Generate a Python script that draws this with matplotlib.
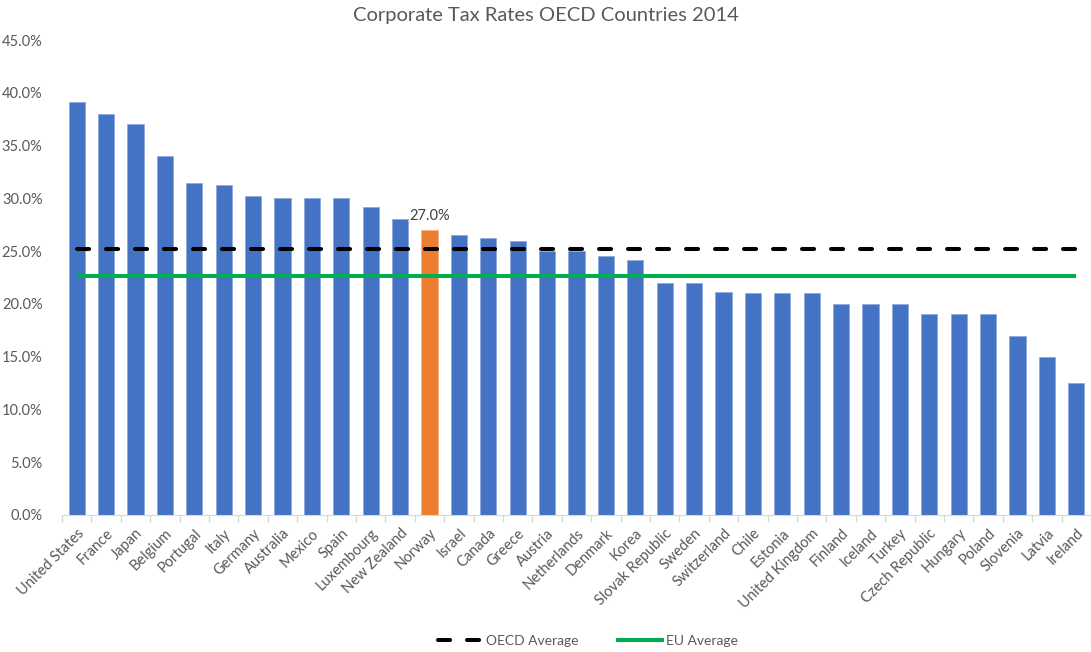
import matplotlib
matplotlib.use("Agg")
import matplotlib.pyplot as plt
import numpy as np
from matplotlib.lines import Line2D
from matplotlib.ticker import FuncFormatter, FixedLocator

plt.rcParams['font.family'] = ['Lato', 'DejaVu Sans']

countries = ["United States", "France", "Japan", "Belgium", "Portugal", "Italy",
             "Germany", "Australia", "Mexico", "Spain", "Luxembourg", "New Zealand",
             "Norway", "Israel", "Canada", "Greece", "Austria", "Netherlands",
             "Denmark", "Korea", "Slovak Republic", "Sweden", "Switzerland", "Chile",
             "Estonia", "United Kingdom", "Finland", "Iceland", "Turkey",
             "Czech Republic", "Hungary", "Poland", "Slovenia", "Latvia", "Ireland"]
tax_rates = [39.1, 38.0, 37.0, 34.0, 31.5, 31.3, 30.2, 30.0, 30.0, 30.0, 29.2, 28.0,
             27.0, 26.5, 26.2, 26.0, 25.0, 25.0, 24.5, 24.2, 22.0, 22.0, 21.1, 21.0,
             21.0, 21.0, 20.0, 20.0, 20.0, 19.0, 19.0, 19.0, 17.0, 15.0, 12.5]
oecd_average = 25.2
eu_average = 22.6
highlight = "Norway"

BLUE = "#4472C4"
ORANGE = "#ED7D31"
GREEN = "#00B050"
GRAY = "#595959"

fig = plt.figure(figsize=(10.91, 6.52), dpi=100)
ax = fig.add_axes([62 / 1091, 1 - 515 / 652, 1 - 62 / 1091, (515 - 40) / 652])

x = np.arange(len(countries))
colors = [ORANGE if c == highlight else BLUE for c in countries]
edges = ["#f4b183" if c == highlight else "#8faadc" for c in countries]
ax.bar(x, tax_rates, width=0.55, color=colors, edgecolor=edges, linewidth=0.6,
       zorder=2)

# Average lines across all categories
ax.plot([x[0], x[-1]], [oecd_average] * 2, color="black", lw=2.9,
        dashes=(3.0, 4.2), dash_capstyle="round", zorder=3)
ax.plot([x[0], x[-1]], [eu_average] * 2, color=GREEN, lw=2.9,
        solid_capstyle="butt", zorder=3)

# Value label for the highlighted country
hi = countries.index(highlight)
ax.text(x[hi], tax_rates[hi] + 0.7, f"{tax_rates[hi]:.1f}%", ha="center",
        va="bottom", fontsize=10.5, color="#404040")

ax.set_xlim(-0.5, len(countries) - 0.5)
ax.set_ylim(0, 45)
ax.set_yticks(np.arange(0, 46, 5))
ax.yaxis.set_major_formatter(FuncFormatter(lambda v, p: f"{v:.1f}%"))
ax.tick_params(axis="y", length=0, labelsize=10.5, labelcolor=GRAY, pad=14)

ax.set_xticks(x)
ax.set_xticklabels(countries, rotation=45, ha="right", rotation_mode="anchor")
ax.tick_params(axis="x", which="major", length=0, labelsize=10.5,
               labelcolor=GRAY, pad=8)
ax.xaxis.set_minor_locator(FixedLocator(np.arange(-0.5, len(countries), 1.0)))
ax.tick_params(axis="x", which="minor", length=5, color="#d9d9d9", width=1)

for s in ["top", "right", "left"]:
    ax.spines[s].set_visible(False)
ax.spines["bottom"].set_color("#d9d9d9")

fig.text(0.5, 1 - 16 / 652, "Corporate Tax Rates OECD Countries 2014",
         ha="center", va="center", fontsize=14.5, color=GRAY)

handles = [Line2D([], [], color="black", lw=2.9, dashes=(3.0, 4.2),
                  dash_capstyle="round"),
           Line2D([], [], color=GREEN, lw=2.9)]
fig.legend(handles, ["OECD Average", "EU Average"], loc="center",
           bbox_to_anchor=(588 / 1091, 1 - 641 / 652), ncol=2, frameon=False,
           fontsize=10, labelcolor=GRAY, handlelength=3.1, handletextpad=0.3,
           columnspacing=2.9)

fig.savefig("out.png", dpi=100)
